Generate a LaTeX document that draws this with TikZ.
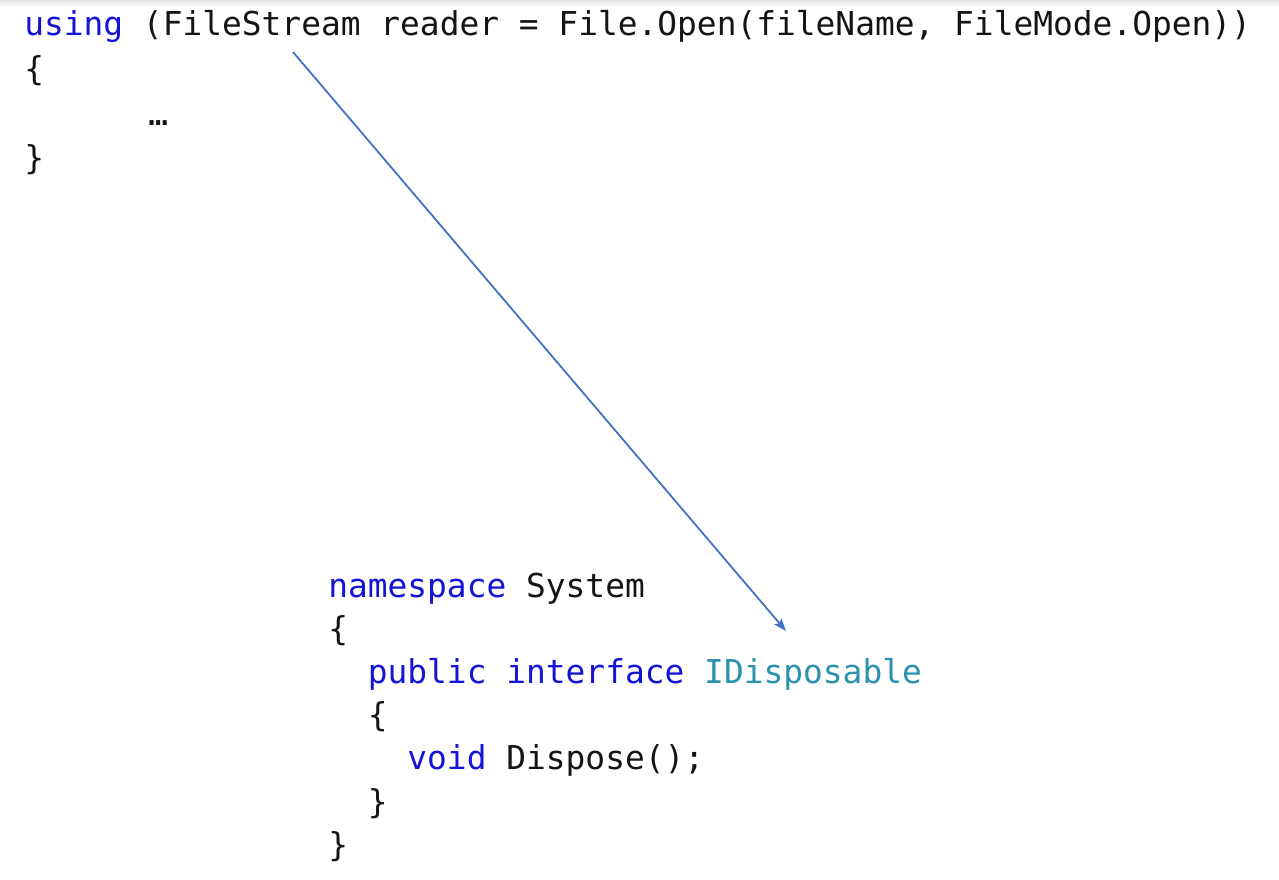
\documentclass[tikz,border=0pt]{standalone}
\usepackage{fontspec}
\setmonofont{DejaVu Sans Mono}
\usetikzlibrary{positioning,arrows.meta}
\definecolor{kwblue}{RGB}{20,20,215}
\definecolor{typeteal}{RGB}{43,145,175}
\definecolor{arrowblue}{RGB}{68,114,196}
\newcommand{\kw}[1]{\textcolor{kwblue}{#1}}
\newcommand{\ty}[1]{\textcolor{typeteal}{#1}}
\tikzset{
	codetop/.style={inner sep=0pt, anchor=base west, text=black!92,
		font=\ttfamily\fontsize{24.65pt}{30pt}\selectfont,
		text height=24pt, text depth=9pt},
	codebot/.style={codetop, text depth=8pt},
	pointer/.style={draw=arrowblue, line width=1.35pt,
		-{Stealth[length=9.5pt, width=7pt, inset=2pt]}}
}
\begin{document}
\begin{tikzpicture}[x=0.75pt, y=-0.75pt]
	\useasboundingbox (0,0) rectangle (1279,880);
	\fill[white] (0,0) rectangle (1279,880);
	\shade[top color=gray!22, bottom color=white] (0,0) rectangle (1279,7);
	
	% using block
	\node[codetop] (u1) at (24,36) {\kw{using} (FileStream reader = File.Open(fileName, FileMode.Open))};
	\node[codetop, below=0pt of u1.south west, anchor=north west] (u2) {\{};
	\node[codetop, below=0pt of u2.south west, anchor=north west, xshift=93pt] (u3) {…};
	\node[codetop, below=0pt of u3.south west, anchor=north west, xshift=-93pt] (u4) {\}};
	
	% interface block
	\node[codebot] (n1) at (328,597) {\kw{namespace} System};
	\node[codebot, below=0pt of n1.south west, anchor=north west] (n2) {\{};
	\node[codebot, below=0pt of n2.south west, anchor=north west] (n3) {\phantom{xx}\kw{public} \kw{interface} \ty{IDisposable}};
	\node[codebot, below=0pt of n3.south west, anchor=north west] (n4) {\phantom{xx}\{};
	\node[codebot, below=0pt of n4.south west, anchor=north west] (n5) {\phantom{xxxx}\kw{void} Dispose();};
	\node[codebot, below=0pt of n5.south west, anchor=north west] (n6) {\phantom{xx}\}};
	\node[codebot, below=0pt of n6.south west, anchor=north west] (n7) {\}};
	
	\coordinate (from) at (293,52);
	\coordinate (to) at (786,631);
	\draw[pointer] (from) -- (to);
\end{tikzpicture}
\end{document}
